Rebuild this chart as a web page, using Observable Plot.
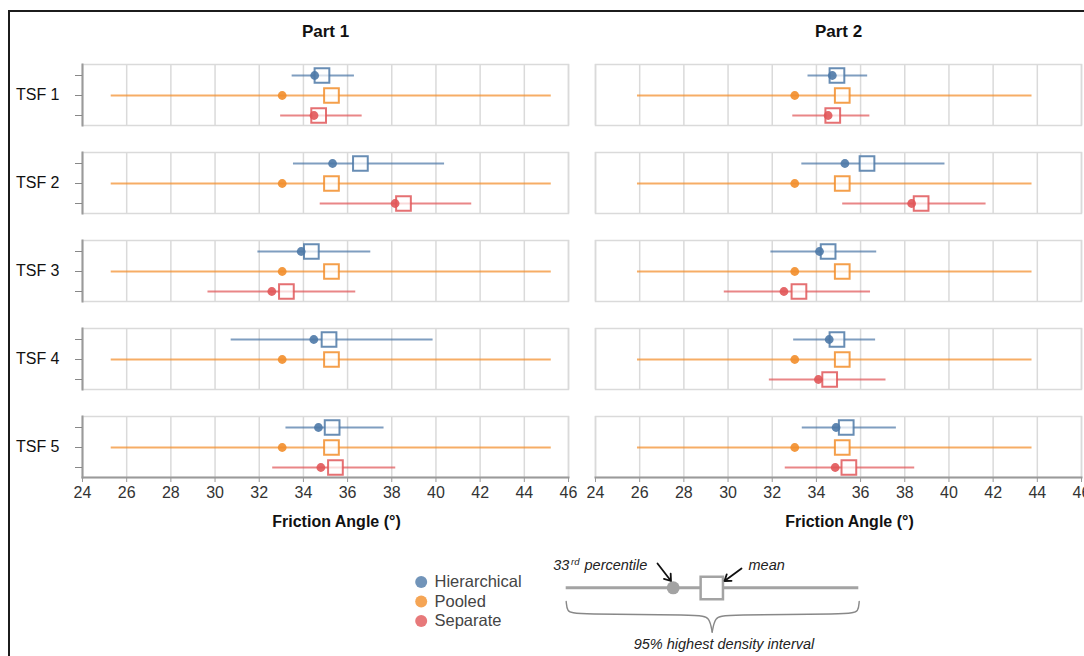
<!DOCTYPE html>
<html>
<head>
<meta charset="utf-8">
<script src="https://cdn.jsdelivr.net/npm/d3@7"></script>
<script src="https://cdn.jsdelivr.net/npm/@observablehq/plot@0.6"></script>
<style>
  html, body { margin: 0; padding: 0; background: #fff; overflow: hidden; }
  #wrap { position: relative; width: 1084px; height: 656px; overflow: hidden; background: #fff;
          font-family: "Liberation Sans", Arial, sans-serif; }
  #border { position: absolute; left: 8px; top: 10px; width: 1200px; height: 800px;
            border: 2.5px solid #1c1c1c; box-sizing: border-box; }
  #wrap svg { position: absolute; left: 0; }
</style>
</head>
<body>
<div id="wrap"><div id="border"></div></div>
<script>
// ---------------- data ----------------
const parts = ["Part 1", "Part 2"];
const tsfs = ["TSF 1", "TSF 2", "TSF 3", "TSF 4", "TSF 5"];
const methods = ["Hierarchical", "Pooled", "Separate"];
const methodColors = ["#4e79a7", "#f28e2b", "#e15759"];
const xTicks = [24, 26, 28, 30, 32, 34, 36, 38, 40, 42, 44, 46];

// order: Part 1 TSF 1..5, then Part 2 TSF 1..5
const hierLo   = [33.49, 33.55, 31.94, 30.73, 33.21, 33.62, 33.34, 31.94, 32.97, 33.36];
const hierP33  = [34.51, 35.32, 33.90, 34.47, 34.68, 34.72, 35.29, 34.14, 34.58, 34.89];
const hierMean = [34.84, 36.58, 34.36, 35.16, 35.30, 34.93, 36.29, 34.53, 34.93, 35.35];
const hierHi   = [36.31, 40.39, 37.05, 39.87, 37.65, 36.32, 39.82, 36.73, 36.68, 37.62];

const pooledLo   = [25.30, 25.30, 25.30, 25.30, 25.30, 25.90, 25.90, 25.90, 25.90, 25.90];
const pooledP33  = [33.04, 33.04, 33.04, 33.04, 33.04, 33.02, 33.02, 33.02, 33.02, 33.02];
const pooledMean = [35.27, 35.27, 35.27, 35.27, 35.27, 35.17, 35.17, 35.17, 35.17, 35.17];
const pooledHi   = [45.22, 45.22, 45.22, 45.22, 45.22, 43.76, 43.76, 43.76, 43.76, 43.76];

const sepLo   = [32.97, 34.76, 29.68, null, 32.61, 32.93, 35.19, 29.83, 31.87, 32.59];
const sepP33  = [34.48, 38.15, 32.57, null, 34.79, 34.53, 38.31, 32.53, 34.09, 34.85];
const sepMean = [34.69, 38.53, 33.23, null, 35.45, 34.74, 38.74, 33.21, 34.60, 35.47];
const sepHi   = [36.66, 41.62, 36.37, null, 38.18, 36.42, 41.68, 36.45, 37.15, 38.45];

const series = [
  [hierLo, hierP33, hierMean, hierHi],
  [pooledLo, pooledP33, pooledMean, pooledHi],
  [sepLo, sepP33, sepMean, sepHi]
];

const rows = [];
for (let i = 0; i < 10; i++) {
  methods.forEach((m, k) => {
    const [lo, p33, mean, hi] = series[k];
    if (lo[i] == null) return;
    rows.push({part: parts[Math.floor(i / 5)], tsf: tsfs[i % 5], method: m,
               lo: lo[i], p33: p33[i], mean: mean[i], hi: hi[i]});
  });
}

const font = "'Liberation Sans', Arial, sans-serif";

// ---------------- main chart ----------------
const chart = Plot.plot({
  width: 1084,
  height: 540,
  marginLeft: 81,
  marginRight: 2,
  marginTop: 64,
  marginBottom: 62,
  style: {fontFamily: font, background: "transparent", color: "#333", overflow: "visible"},
  x: {domain: [24, 46], ticks: xTicks, label: null},
  y: {type: "point", domain: methods, padding: 0.5, label: null},
  fx: {domain: parts, paddingInner: 0.0525, paddingOuter: 0, label: null},
  fy: {domain: tsfs, paddingInner: 0.306, paddingOuter: 0, label: null},
  color: {domain: methods, range: methodColors},
  marks: [
    Plot.gridX({ticks: xTicks, stroke: "#dadada", strokeOpacity: 1, strokeWidth: 1.5}),
    Plot.frame({stroke: "#dadada", strokeWidth: 1.5}),
    Plot.frame({anchor: "left", stroke: "#9a9a9a", strokeWidth: 2, facetAnchor: "left"}),
    Plot.frame({anchor: "bottom", stroke: "#9a9a9a", strokeWidth: 2, facetAnchor: "bottom"}),
    Plot.axisX({ticks: xTicks, tickSize: 5, tickPadding: 4, fontSize: 16, stroke: "#999", fill: "#333", label: null}),
    Plot.axisY({tickSize: 7, tickFormat: () => "", stroke: "#888", label: null}),
    Plot.axisFy({anchor: "left", tickSize: 0, tickPadding: 23, fontSize: 16, fill: "#111", label: null}),
    Plot.axisFx({anchor: "top", tickSize: 0, tickPadding: 28, fontSize: 17, fontWeight: "bold", fill: "#111", label: null}),
    Plot.ruleY(rows, {fx: "part", fy: "tsf", y: "method", x1: "lo", x2: "hi",
                      stroke: "method", strokeWidth: 2, strokeOpacity: 0.72}),
    Plot.dot(rows, {fx: "part", fy: "tsf", y: "method", x: "mean", symbol: "square", r: 8.3,
                    stroke: "method", strokeOpacity: 0.85, strokeWidth: 2, fill: "white", fillOpacity: 0.7}),
    Plot.dot(rows, {fx: "part", fy: "tsf", y: "method", x: "p33", r: 4.4,
                    fill: "method", fillOpacity: 0.9}),
    Plot.text(parts, {fx: d => d, fy: () => tsfs[4], text: () => "Friction Angle (°)",
                      frameAnchor: "bottom", dy: 44, dx: 11, lineAnchor: "middle",
                      fontWeight: "bold", fontSize: 16, fill: "#111"})
  ]
});
chart.style.top = "0px";
document.getElementById("wrap").appendChild(chart);

// ---------------- legend + key schematic ----------------
const legendY = [41.5, 61, 80.5];
const grayKey = "#a3a3a3";
const braceLeft = [[565.7, 61], [566.5, 71], [574, 74], [700, 74], [709, 77], [711.7, 91.5]];
const braceRight = [[711.7, 91.5], [714.4, 77], [723.4, 74], [850, 74], [858, 71], [858.7, 61]];
const keyArrows = [[657, 23, 670.5, 40.5], [741, 28, 724, 40.5]];

const key = Plot.plot({
  width: 1084,
  height: 116,
  margin: 0,
  style: {fontFamily: font, background: "transparent", overflow: "visible"},
  x: {domain: [0, 1084], range: [0, 1084], axis: null},
  y: {domain: [0, 116], range: [0, 116], axis: null},
  color: {domain: methods, range: methodColors},
  marks: [
    // legend
    Plot.dot(methods, {x: 420.7, y: (d, i) => legendY[i], r: 6, fill: d => d, fillOpacity: 0.8}),
    Plot.text(methods, {x: 434, y: (d, i) => legendY[i], text: d => d, textAnchor: "start",
                        fontSize: 16.5, fill: "#444"}),
    // schematic interval
    Plot.ruleY([47.3], {x1: 565.7, x2: 858.3, stroke: grayKey, strokeWidth: 3}),
    Plot.dot([0], {x: 711.3, y: 47.5, symbol: "square", r: 12.6, stroke: grayKey, strokeWidth: 2.5, fill: "white"}),
    Plot.dot([0], {x: 672.7, y: 47.3, r: 6.5, fill: grayKey}),
    // labels
    Plot.text(["33"], {x: 552.7, y: 29, text: d => d, textAnchor: "start", lineAnchor: "bottom",
                       fontSize: 14.5, fontStyle: "italic", fill: "#222"}),
    Plot.text(["rd"], {x: 570.6, y: 24, text: d => d, textAnchor: "start", lineAnchor: "bottom",
                       fontSize: 9.5, fontStyle: "italic", fill: "#222"}),
    Plot.text(["percentile"], {x: 584, y: 29, text: d => d, textAnchor: "start", lineAnchor: "bottom",
                       fontSize: 14.5, fontStyle: "italic", fill: "#222"}),
    Plot.text(["mean"], {x: 748, y: 29, text: d => d, textAnchor: "start", lineAnchor: "bottom",
                       fontSize: 14.5, fontStyle: "italic", fill: "#222"}),
    Plot.arrow(keyArrows, {x1: d => d[0], y1: d => d[1], x2: d => d[2], y2: d => d[3],
                           stroke: "#111", strokeWidth: 1.8, headLength: 9, headAngle: 70}),
    Plot.line(braceLeft, {x: d => d[0], y: d => d[1], curve: "basis", stroke: "#888", strokeWidth: 1.4}),
    Plot.line(braceRight, {x: d => d[0], y: d => d[1], curve: "basis", stroke: "#888", strokeWidth: 1.4}),
    Plot.text(["95% highest density interval"], {x: 723.5, y: 108, text: d => d, lineAnchor: "bottom",
                       fontSize: 14.5, fontStyle: "italic", fill: "#222"})
  ]
});
key.style.top = "540px";
document.getElementById("wrap").appendChild(key);
</script>
</body>
</html>
